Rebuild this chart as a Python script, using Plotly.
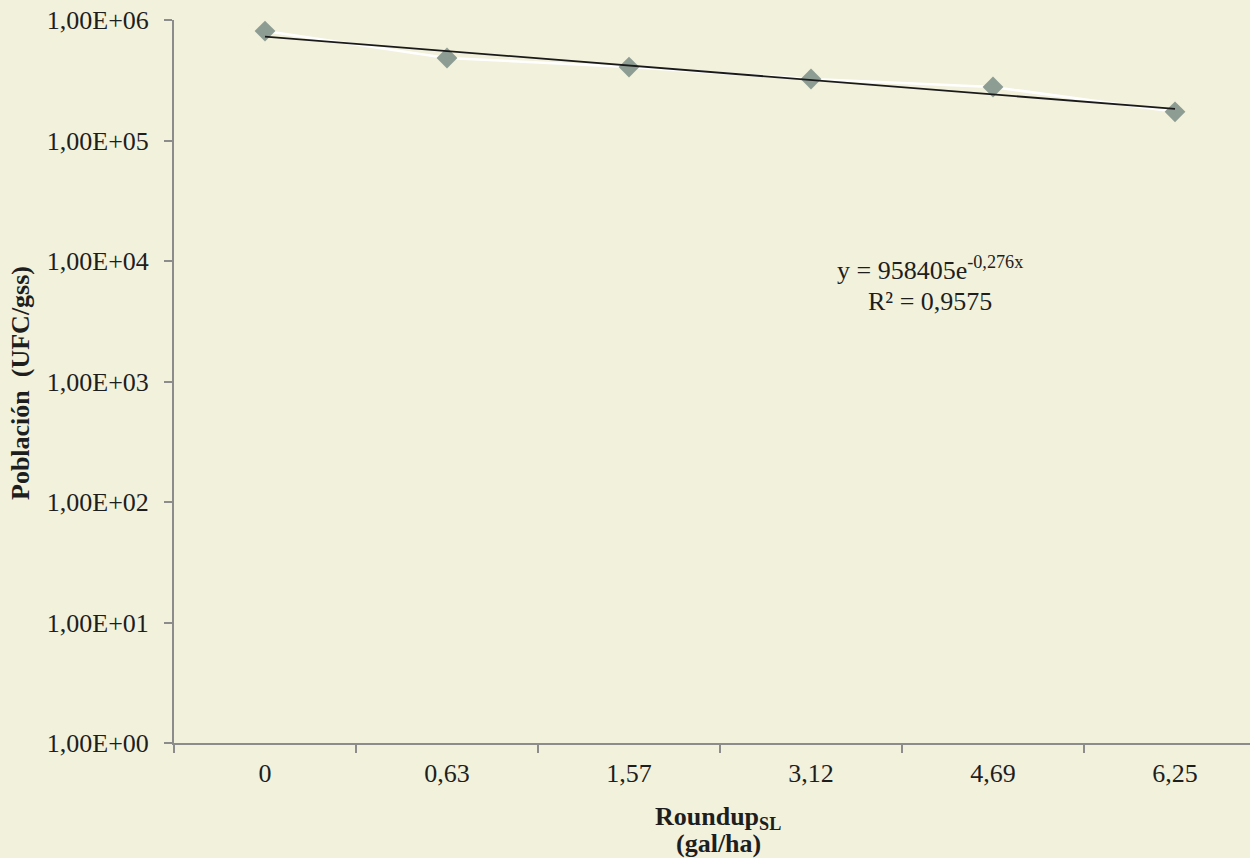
import numpy as np
import plotly.graph_objects as go

categories = ["0", "0,63", "1,57", "3,12", "4,69", "6,25"]
poblacion = [8.1e5, 4.84e5, 4.07e5, 3.24e5, 2.78e5, 1.73e5]
trend_a = 958405
trend_b = -0.276
ytick_vals = [1, 10, 100, 1000, 10000, 100000, 1000000]
ytick_text = ["1,00E+00", "1,00E+01", "1,00E+02", "1,00E+03", "1,00E+04", "1,00E+05", "1,00E+06"]

xi = np.arange(1, len(categories) + 1)
trend = trend_a * np.exp(trend_b * xi)

BG = "#F2F1DC"
AX = "#8C8C8C"
FONT = "Liberation Serif, Times New Roman, serif"
W, H = 1250, 858
L, R, T, B = 174, 0, 20, 115

fig = go.Figure()
fig.add_trace(go.Scatter(x=categories, y=poblacion, mode="lines+markers",
                         line=dict(color="white", width=2.5),
                         marker=dict(symbol="diamond", size=16, color="#8E9D93"),
                         showlegend=False))
fig.add_trace(go.Scatter(x=categories, y=trend, mode="lines",
                         line=dict(color="#1a1a1a", width=1.8), showlegend=False))

pw, ph = W - L - R, H - T - B
def px(x): return (x - L) / pw
def py(y): return (H - B - y) / ph

def ann(text, x, y, angle=0):
    return dict(text=text, x=px(x), y=py(y), xref="paper", yref="paper", showarrow=False,
                font=dict(size=26), align="center", xanchor="center", yanchor="middle",
                textangle=angle)

fig.update_layout(
    width=W, height=H,
    paper_bgcolor=BG, plot_bgcolor=BG,
    margin=dict(l=L, r=R, t=T, b=B),
    font=dict(family=FONT, size=26, color="#1e1e1e"),
    xaxis=dict(type="category", range=[-0.5, 5.412], showgrid=False, zeroline=False,
               showline=True, linecolor=AX, linewidth=2, ticks="outside", tickson="boundaries",
               ticklen=8, tickcolor=AX, tickwidth=1.5, tickfont=dict(size=26),
               ticklabelstandoff=6),
    yaxis=dict(type="log", range=[0, 6], showgrid=False, zeroline=False,
               showline=True, linecolor=AX, linewidth=2, ticks="outside",
               ticklen=8, tickcolor=AX, tickwidth=1.5,
               tickvals=ytick_vals, ticktext=ytick_text, tickfont=dict(size=26),
               ticklabelstandoff=10),
    annotations=[
        ann("y = 958405e<sup>-0,276x</sup>", 930, 268),
        ann("R² = 0,9575", 930, 302),
        ann("<b>Roundup<sub>SL</sub></b>", 718, 818),
        ann("<b>(gal/ha)</b>", 718, 843),
        ann("<b>Población\u00a0\u00a0(UFC/gss)</b>", 20, 383, -90),
    ],
)

fig.write_html("out.html", config={"displayModeBar": False},
               post_script="document.body.style.margin='0px';")
